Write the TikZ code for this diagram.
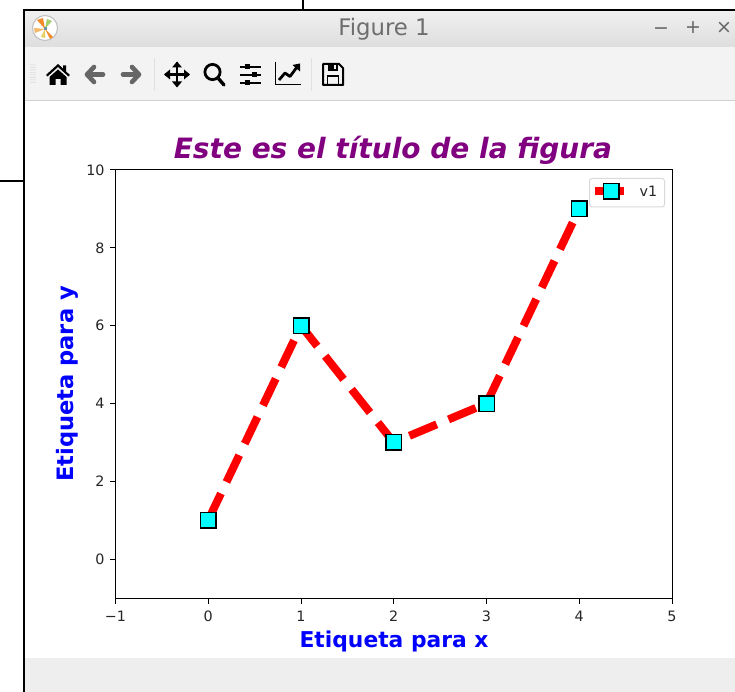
\documentclass[tikz,border=0pt]{standalone}
\usepackage{fontspec}
\setmainfont{DejaVu Sans}
\usetikzlibrary{arrows.meta}
\definecolor{barlo}{HTML}{DEDEDE}
\definecolor{barhi}{HTML}{F0F0F0}
\definecolor{toolbg}{HTML}{F3F3F3}
\definecolor{toolline}{HTML}{D2D2D2}
\definecolor{footbg}{HTML}{EEEEEE}
\definecolor{icongray}{HTML}{666666}
\definecolor{wintext}{HTML}{6E6E6E}
\definecolor{legline}{HTML}{D9D9D9}
\definecolor{ticktext}{HTML}{262626}
\definecolor{plotred}{HTML}{FF0000}
\definecolor{plotcyan}{HTML}{00FFFF}
\definecolor{plotblue}{HTML}{0000FF}
\definecolor{plotpurple}{HTML}{800080}
\definecolor{fanorange}{HTML}{F28C28}
\definecolor{fanpale}{HTML}{F5B768}
\definecolor{fanyellow}{HTML}{E8D060}
\definecolor{fangreen}{HTML}{A4CF6A}
\definecolor{fanblue}{HTML}{7090A0}
\tikzset{
  x=1pt,y=-1pt,
  every node/.style={inner sep=0pt,outer sep=0pt},
  frameline/.style={black,line width=2pt},
  ticklab/.style={font=\fontsize{14.3}{14.3}\selectfont,text=ticktext},
  axlab/.style={font=\fontsize{21.8}{21.8}\selectfont\bfseries,text=plotblue},
  marker/.style={rectangle,draw=black,fill=plotcyan,line width=1.5pt,minimum size=15.5pt},
  series/.style={plotred,line width=8pt,dash pattern=on 29.6pt off 12.8pt},
  tickmark/.style={black,line width=1pt},
  iconblack/.style={fill=black,draw=none},
  iconline/.style={black,line width=1.7pt},
  winbtn/.style={font=\fontsize{19}{19}\selectfont,text=icongray}
}
\begin{document}
\begin{tikzpicture}
\useasboundingbox (0,0) rectangle (735,692);
\fill[white] (0,0) rectangle (735,692);
% window
\shade[top color=barhi,bottom color=barlo] (24,11) rectangle (735,47);
\fill[toolbg] (24,47) rectangle (735,100);
\fill[toolline] (24,100) rectangle (735,101.5);
\fill[footbg] (25,658) rectangle (735,692);
\draw[frameline] (303,0) -- (303,10);
\draw[frameline] (0,181) -- (24,181);
\draw[frameline] (24,692) -- (24,10) -- (735,10);
% app icon
\filldraw[draw=black!25,fill=white,line width=1pt] (45,28) circle (12.5);
\fill[fanorange] (45,29) -- (37,20) -- (43,18) -- cycle;
\fill[fanpale] (45,29) -- (34,28) -- (35,33) -- cycle;
\fill[fanorange] (45,29) -- (53,37) -- (50,39) -- cycle;
\fill[fanyellow] (45,29) -- (41,37) -- (45,38) -- cycle;
\fill[fangreen] (45,29) -- (47,19) -- (52,21) -- cycle;
\fill[fanblue] (43.5,27.5) rectangle (46.5,30.5);
% title bar
\node[font=\fontsize{22.8}{22.8}\selectfont,text=wintext] (wintitle) at (384,29.5) {Figure 1};
\node[winbtn] (minbtn) at (661,31) {−};
\node[winbtn] (plusbtn) at (693,27.5) {+};
\node[winbtn] (closebtn) at (724,27.5) {×};
% toolbar grip
\foreach \gx in {31,33,35}{\foreach \gy in {65,67.5,...,83}{\fill[black!25] (\gx,\gy) circle (0.5);}}
% separators
\fill[black!12] (154,58) rectangle (155,91);
\fill[black!12] (310.5,58) rectangle (311.5,91);
% home
\fill[iconblack] (46,75) -- (58,64) -- (63,68.5) -- (63,65.5) -- (66,65.5) -- (66,71.5) -- (70,75) -- (68.5,76.5) -- (58,67) -- (47.5,76.5) -- cycle;
\fill[iconblack] (49.5,77) -- (58,69.5) -- (66.5,77) -- (66.5,85) -- (60.5,85) -- (60.5,79) -- (55.5,79) -- (55.5,85) -- (49.5,85) -- cycle;
% back / forward
\draw[icongray,line width=4.6pt,line join=round,line cap=round] (103,74.5) -- (88,74.5);
\draw[icongray,line width=4.6pt,line join=round,line cap=round] (94,67) -- (87,74.5) -- (94,82);
\draw[icongray,line width=4.6pt,line join=round,line cap=round] (123,74.5) -- (138,74.5);
\draw[icongray,line width=4.6pt,line join=round,line cap=round] (132,67) -- (139,74.5) -- (132,82);
% move
\draw[black,line width=2.6pt] (165,74.5) -- (189,74.5);
\draw[black,line width=2.6pt] (177,62.5) -- (177,86.5);
\fill[iconblack] (177,61.5) -- (182,67.5) -- (172,67.5) -- cycle;
\fill[iconblack] (177,87.5) -- (182,81.5) -- (172,81.5) -- cycle;
\fill[iconblack] (164,74.5) -- (170,69.5) -- (170,79.5) -- cycle;
\fill[iconblack] (190,74.5) -- (184,69.5) -- (184,79.5) -- cycle;
% zoom
\draw[black,line width=2.8pt] (212.5,72) circle (7.6);
\draw[black,line width=3.4pt,line cap=round] (218,78) -- (224,85);
% sliders
\draw[iconline] (240,67) -- (261,67);
\draw[iconline] (240,75) -- (261,75);
\draw[iconline] (240,83) -- (261,83);
\fill[iconblack] (244.5,64.5) rectangle (249.5,69.5);
\fill[iconblack] (252,72.5) rectangle (257,77.5);
\fill[iconblack] (244.5,80.5) rectangle (249.5,85.5);
% chart
\draw[black,line width=1.5pt] (275.5,62) -- (275.5,84.5) -- (301,84.5);
\draw[black,line width=2.8pt,line join=round] (279,80) -- (285,73) -- (290,76.5) -- (297,67);
\fill[iconblack] (300,63.5) -- (300,71.5) -- (292.5,65) -- cycle;
% save
\draw[black,line width=2pt,line join=round] (323,64) -- (339,64) -- (343,68) -- (343,85) -- (323,85) -- cycle;
\fill[iconblack] (328,64) rectangle (338,71);
\fill[toolbg] (333.5,65.5) rectangle (336,69.5);
\draw[black,line width=1.8pt] (327.5,85) -- (327.5,76) -- (338.5,76) -- (338.5,85);
% plot frame
\coordinate (axNW) at (115.5,170);
\coordinate (axSE) at (672,598);
\draw[black,line width=1pt] (axNW) rectangle (axSE);
% x ticks
\foreach \v/\px/\lab in {-1/115.5/−1,0/208.2/0,1/301/1,2/393.7/2,3/486.5/3,4/579.2/4,5/672/5}{
  \draw[tickmark] (\px,598) -- (\px,603.5);
  \node[ticklab,anchor=base] (xt\v) at (\px,621) {\lab};
}
% y ticks
\foreach \v/\py in {0/559.1,2/481.3,4/403.5,6/325.7,8/247.9,10/170}{
  \draw[tickmark] (115.5,\py) -- (110,\py);
  \node[ticklab,anchor=east] (yt\v) at (104.5,\py) {\v};
}
% labels
\node[font=\fontsize{28}{28}\selectfont\bfseries\itshape,text=plotpurple,anchor=base] (title) at (393,159) {Este es el título de la figura};
\node[axlab,anchor=base] (xlabel) at (394,647) {Etiqueta para x};
\node[axlab,font=\fontsize{22.6}{22.6}\selectfont\bfseries,anchor=base,rotate=90] (ylabel) at (73,384) {Etiqueta para y};
% data
\coordinate (p0) at (208.2,520.2);
\coordinate (p1) at (301,325.7);
\coordinate (p2) at (393.7,442.4);
\coordinate (p3) at (486.5,403.5);
\coordinate (p4) at (579.2,208.9);
% legend
\draw[draw=legline,fill=white,line width=1pt,rounded corners=2.5pt] (589.5,178.5) rectangle (664.5,207);
\draw[plotred,line width=8pt] (595,191.5) -- (624,191.5);
\node[marker] (legmark) at (611,191.5) {};
\node[font=\fontsize{14.3}{14.3}\selectfont,text=ticktext,anchor=base] (legtext) at (648.5,196.5) {v1};
% series
\draw[series] (p0) -- (p1) -- (p2) -- (p3) -- (p4);
\node[marker] (m0) at (p0) {};
\node[marker] (m1) at (p1) {};
\node[marker] (m2) at (p2) {};
\node[marker] (m3) at (p3) {};
\node[marker] (m4) at (p4) {};
\end{tikzpicture}
\end{document}
